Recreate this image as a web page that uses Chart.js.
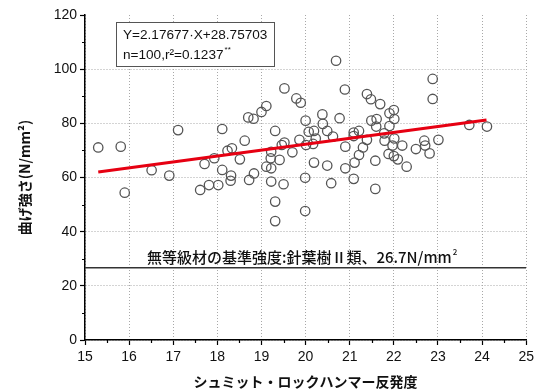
<!DOCTYPE html>
<html lang="ja">
<head>
<meta charset="utf-8"/>
<title>曲げ強さとシュミット・ロックハンマー反発度</title>
<script src="https://cdn.jsdelivr.net/npm/chart.js@4/dist/chart.umd.min.js"></script>
<style>
  html, body { margin: 0; padding: 0; background: #fff; }
  #myChart { display: block; }
</style>
</head>
<body>
<canvas id="myChart" width="538" height="390"></canvas>
<script>
  // rebound value (x) of each specimen
  var rebound = [
    15.30, 15.81, 15.90, 16.51, 16.91, 17.11, 17.61, 17.81, 18.02, 17.71,
    17.93, 18.11, 18.11, 18.23, 18.33, 18.31, 18.30, 18.51, 18.62, 18.70,
    18.82, 18.72, 18.83, 19.00, 19.11, 19.11, 19.52, 19.31, 19.52, 20.69,
    22.88, 22.88, 20.89, 19.79, 19.89, 21.39, 21.48, 21.69, 22.00, 21.90,
    22.01, 21.49, 21.61, 20.38, 20.39, 20.77, 20.00, 20.07, 20.19, 20.49,
    20.62, 21.09, 21.21, 21.09, 21.60, 21.90, 23.71, 24.11, 19.86, 20.01,
    20.17, 19.70, 19.22, 20.90, 21.39, 21.79, 22.01, 22.19, 22.50, 22.69,
    22.71, 23.01, 22.81, 21.30, 21.21, 21.11, 20.90, 21.09, 21.58, 21.88,
    22.00, 22.09, 22.29, 21.58, 20.19, 20.49, 20.58, 19.99, 19.50, 19.22,
    19.22, 19.41, 19.31, 19.31, 19.21, 19.99, 21.97, 20.23, 21.78, 19.46
  ];
  // bending strength (y), N/mm2
  var strength = [
    71.1, 71.4, 54.4, 62.7, 60.7, 77.5, 55.4, 57.2, 57.2, 65.0,
    67.1, 77.9, 62.8, 69.9, 70.8, 60.7, 58.8, 66.7, 73.6, 82.2,
    81.7, 59.1, 61.5, 84.2, 86.4, 64.0, 92.9, 77.2, 72.9, 103.1,
    96.4, 89.0, 92.5, 89.2, 87.6, 90.8, 88.9, 87.1, 84.9, 83.7,
    81.6, 81.0, 81.6, 83.3, 79.8, 81.9, 81.0, 76.9, 77.2, 77.2,
    75.1, 76.6, 77.2, 75.3, 78.8, 79.0, 79.4, 78.8, 73.9, 72.0,
    72.4, 69.3, 69.5, 71.4, 73.9, 73.6, 74.4, 71.8, 70.5, 73.6,
    71.8, 73.9, 68.9, 71.1, 68.3, 65.5, 63.4, 59.5, 66.2, 68.7,
    67.9, 66.7, 64.0, 55.8, 65.5, 64.4, 57.9, 59.9, 57.5, 58.5,
    63.4, 66.5, 51.1, 43.9, 67.1, 47.6, 71.8, 74.4, 76.3, 72.0
  ];

  // regression line Y = a*X + b, drawn over the range of the data
  var slope = 2.17677;
  var intercept = 28.75703;
  var fitRange = [15.3, 24.1];

  // reference strength for ungraded lumber
  var baseStrength = 26.7;
  var baseRange = [15, 25];

  var xTicks = [15, 25, 1];
  var yTicks = [0, 120, 20];

  var points = rebound.map(function (x, i) { return { x: x, y: strength[i] }; });
  var fitLine = fitRange.map(function (x) { return { x: x, y: slope * x + intercept }; });
  var baseLine = baseRange.map(function (x) { return { x: x, y: baseStrength }; });

  var numFont = "'Liberation Sans', Arial, sans-serif";
  var jpFont = "'Noto Sans CJK JP', sans-serif";

  // minor ticks, equation box and the label of the reference line
  var extras = {
    id: "extras",
    afterDraw: function (chart) {
      var ctx = chart.ctx, xs = chart.scales.x, ys = chart.scales.y, area = chart.chartArea;
      ctx.save();
      ctx.strokeStyle = "#000";
      ctx.lineWidth = 1.2;
      ctx.beginPath();
      for (var v = xTicks[0] + xTicks[2] / 2; v < xTicks[1]; v += xTicks[2]) {
        var px = Math.round(xs.getPixelForValue(v)) + 0.5;
        ctx.moveTo(px, area.bottom);
        ctx.lineTo(px, area.bottom + 3);
      }
      for (var w = yTicks[0] + yTicks[2] / 2; w < yTicks[1]; w += yTicks[2]) {
        var py = Math.round(ys.getPixelForValue(w)) + 0.5;
        ctx.moveTo(area.left, py);
        ctx.lineTo(area.left - 3, py);
      }
      ctx.stroke();

      // equation box
      var bx = area.left + 31, by = area.top + 7;
      ctx.fillStyle = "#fff";
      ctx.fillRect(bx, by, 158, 44);
      ctx.strokeStyle = "#555";
      ctx.lineWidth = 1;
      ctx.strokeRect(bx + 0.5, by + 0.5, 158, 44);
      ctx.fillStyle = "#111";
      ctx.textBaseline = "middle";
      ctx.textAlign = "left";
      ctx.font = "13.6px " + numFont;
      ctx.fillText("Y=2.17677\u00b7X+28.75703", bx + 7, by + 13);
      var l2 = "n=100,r\u00b2=0.1237";
      ctx.fillText(l2, bx + 7, by + 33);
      var wl2 = ctx.measureText(l2).width;
      ctx.font = "8px " + numFont;
      ctx.fillText("**", bx + 8 + wl2, by + 28);

      // reference line label
      ctx.font = "500 15px " + jpFont;
      ctx.fillStyle = "#111";
      ctx.textBaseline = "alphabetic";
      var by2 = ys.getPixelForValue(baseStrength) - 5;
      var t1 = "無等級材の基準強度:針葉樹Ⅱ類、26.7N/mm";
      ctx.fillText(t1, area.left + 62, by2);
      var w1 = ctx.measureText(t1).width;
      ctx.font = "500 8px " + jpFont;
      ctx.fillText("2", area.left + 62 + w1 + 1, by2 - 8);
      ctx.restore();
    }
  };

  new Chart(document.getElementById("myChart"), {
    type: "scatter",
    data: {
      datasets: [
        {
          type: "line",
          data: fitLine,
          borderColor: "#e60012",
          borderWidth: 3,
          pointRadius: 0,
          fill: false,
          order: 0
        },
        {
          type: "line",
          data: baseLine,
          borderColor: "#333",
          borderWidth: 1.5,
          pointRadius: 0,
          fill: false,
          order: 2
        },
        {
          data: points,
          pointStyle: "circle",
          pointRadius: 4.7,
          pointBorderWidth: 1.3,
          pointBorderColor: "#555",
          pointBackgroundColor: "rgba(0,0,0,0)",
          order: 1
        }
      ]
    },
    options: {
      responsive: false,
      animation: false,
      devicePixelRatio: 1,
      layout: { padding: { top: 15, right: 11, left: 0, bottom: 0 } },
      plugins: { legend: { display: false }, tooltip: { enabled: false } },
      scales: {
        x: {
          type: "linear",
          min: xTicks[0], max: xTicks[1],
          afterFit: function (s) { s.height = 50; },
          ticks: { stepSize: xTicks[2], color: "#111", padding: 4, font: { family: numFont, size: 14 } },
          grid: {
            color: "#a8a8a8", lineWidth: 1, tickLength: 5, tickColor: "#000", tickWidth: 1.2
          },
          border: { color: "#000", width: 1.5, dash: [1, 2] },
          title: {
            display: true, text: "シュミット・ロックハンマー反発度", color: "#111",
            padding: { bottom: 0, top: 0 }, font: { family: jpFont, size: 14, weight: "bold" }
          }
        },
        y: {
          min: yTicks[0], max: yTicks[1],
          afterFit: function (s) { s.width = 85; },
          ticks: { stepSize: yTicks[2], color: "#111", padding: 3, font: { family: numFont, size: 14 } },
          grid: {
            color: function (c) { return c.tick && c.tick.value === yTicks[1] ? "rgba(0,0,0,0)" : "#a8a8a8"; },
            lineWidth: 1, tickLength: 5, tickColor: "#000", tickWidth: 1.2
          },
          border: { color: "#000", width: 1.5, dash: [1, 2] },
          title: {
            display: true, text: "曲げ強さ(N/mm²)", color: "#111",
            padding: { top: 16, bottom: 0 }, font: { family: jpFont, size: 14, weight: "bold" }
          }
        }
      }
    },
    plugins: [extras]
  });
</script>
</body>
</html>
